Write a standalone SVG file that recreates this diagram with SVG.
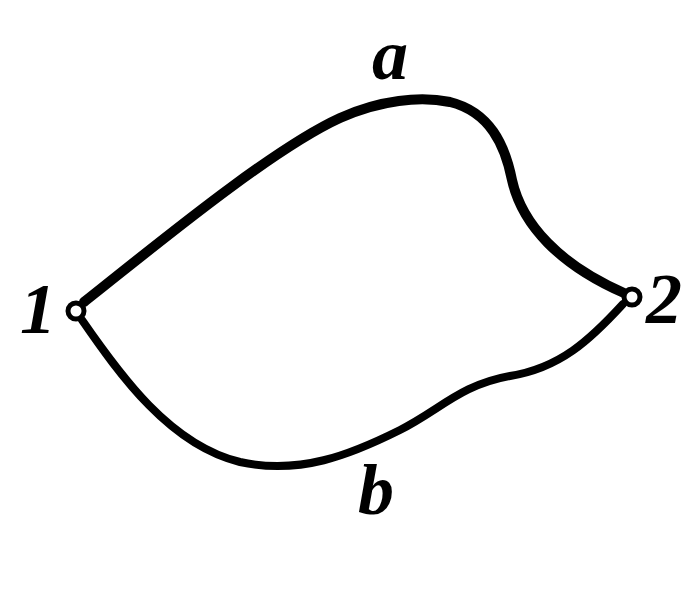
<svg xmlns="http://www.w3.org/2000/svg" width="700" height="600" viewBox="0 0 700 600">
<style>
.edge{fill:none;stroke:#000;stroke-linecap:round;stroke-linejoin:round}
.node{fill:#fff;stroke:#000;stroke-width:5}
.lbl{font-family:"Liberation Serif",serif;font-style:italic;font-weight:bold;font-size:72px;fill:#000}
</style>
<rect width="700" height="600" fill="#fff"/>
<g id="connectors">
<path id="edge-a" class="edge" stroke-width="10" d="M 84 302 C 150 250, 270 150, 340 118 C 380 100, 420 96, 450 102 C 490 112, 505 145, 512 180 C 522 225, 560 265, 624 293"/>
<path id="edge-b" class="edge" stroke-width="8" d="M 82 320 C 120 375, 170 445, 240 462 C 300 475, 350 455, 400 430 C 440 410, 460 385, 510 376 C 560 368, 590 340, 623 304"/>
</g>
<g id="node1"><circle class="node" cx="76" cy="311" r="8"/><text class="lbl" x="20" y="333">1</text></g>
<g id="node2"><circle class="node" cx="632" cy="297" r="8"/><text class="lbl" x="646" y="323">2</text></g>
<text class="lbl" x="372" y="79">a</text>
<text class="lbl" x="358" y="514">b</text>
</svg>
